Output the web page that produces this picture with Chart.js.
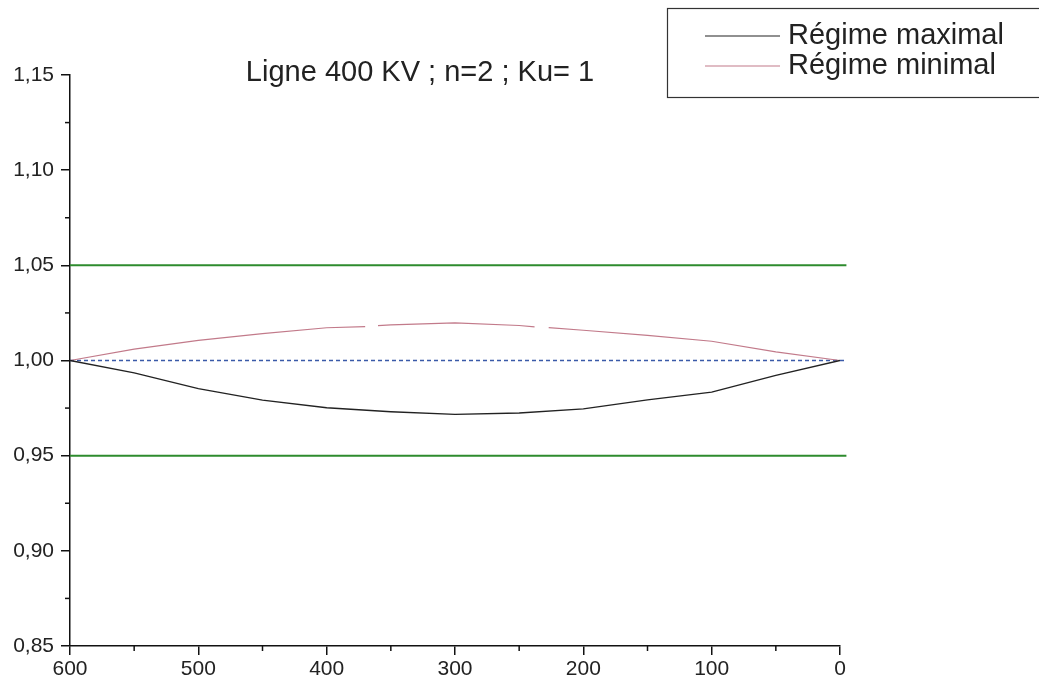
<!DOCTYPE html>
<html>
<head>
<meta charset="utf-8">
<script src="https://cdn.jsdelivr.net/npm/chart.js@4"></script>
<style>
html,body{margin:0;padding:0;background:#fff;}
#wrap{position:relative;width:1039px;height:689px;}
</style>
</head>
<body>
<div id="wrap"><canvas id="c" width="1039" height="689"></canvas></div>
<script>
// ---- data ----
const titleText = 'Ligne 400 KV ; n=2 ; Ku= 1';
const seriesLabels = ['Régime maximal', 'Régime minimal'];
const xTicks = [600, 500, 400, 300, 200, 100, 0];
const yTicks = [0.85, 0.90, 0.95, 1.00, 1.05, 1.10, 1.15];

const maxX = [600, 550, 500, 450, 400, 350, 300, 250, 200, 150, 100, 50, 0];
const maxY = [1.000, 0.9935, 0.9852, 0.9792, 0.9752, 0.9731, 0.9717, 0.9724, 0.9746, 0.9793, 0.9834, 0.9922, 1.000];

const minX = [600, 550, 500, 450, 400, 370, 365, 360, 350, 300, 250, 238, 232, 227, 200, 150, 100, 50, 0];
const minY = [1.000, 1.0060, 1.0106, 1.0141, 1.0172, 1.0178, null, 1.0183, 1.0187, 1.0198, 1.0184, 1.0177, null, 1.0173, 1.0159, 1.0132, 1.0101, 1.0045, 1.000];

const limitX = [600, -5];
const upperY = [1.05, 1.05];
const lowerY = [0.95, 0.95];
const refY = [1.00, 1.00];

const FONT = "'Liberation Sans', Arial, Helvetica, sans-serif";
const pts = (xs, ys) => xs.map((x, i) => ({x: x, y: ys[i]}));

const decorPlugin = {
  id: 'decor',
  afterDraw(chart) {
    const ctx = chart.ctx;
    const xs = chart.scales.x, ys = chart.scales.y;
    ctx.save();
    // minor ticks
    ctx.strokeStyle = '#111';
    ctx.lineWidth = 1.5;
    const yAxisX = chart.chartArea.left;
    for (let v = 0.875; v < 1.15; v += 0.05) {
      const py = ys.getPixelForValue(v);
      ctx.beginPath(); ctx.moveTo(yAxisX - 5, py); ctx.lineTo(yAxisX, py); ctx.stroke();
    }
    const xAxisY = chart.chartArea.bottom;
    for (let v = 50; v < 600; v += 100) {
      const px = xs.getPixelForValue(v);
      ctx.beginPath(); ctx.moveTo(px, xAxisY); ctx.lineTo(px, xAxisY + 5); ctx.stroke();
    }
    // title
    ctx.fillStyle = '#222';
    ctx.font = '29px ' + FONT;
    ctx.textAlign = 'center';
    ctx.textBaseline = 'middle';
    ctx.fillText(titleText, 420, 73);
    // legend box
    ctx.strokeStyle = '#333';
    ctx.lineWidth = 1.2;
    ctx.strokeRect(667.5, 8.5, 400, 89);
    const items = [
      {label: chart.data.datasets[0].label, color: chart.data.datasets[0].borderColor, y: 36},
      {label: chart.data.datasets[1].label, color: chart.data.datasets[1].borderColor, y: 66}
    ];
    ctx.textAlign = 'left';
    items.forEach(it => {
      ctx.strokeStyle = it.color;
      ctx.lineWidth = 1.2;
      ctx.beginPath(); ctx.moveTo(705, it.y); ctx.lineTo(780, it.y); ctx.stroke();
      ctx.fillStyle = '#222';
      ctx.fillText(it.label, 788, it.y);
    });
    ctx.restore();
  }
};

new Chart(document.getElementById('c'), {
  type: 'line',
  data: {
    datasets: [
      {label: seriesLabels[0], data: pts(maxX, maxY), borderColor: '#222222', borderWidth: 1.4, pointRadius: 0, tension: 0, spanGaps: false},
      {label: seriesLabels[1], data: pts(minX, minY), borderColor: '#c27a8a', borderWidth: 1.2, pointRadius: 0, tension: 0, spanGaps: false},
      {label: 'upper', data: pts(limitX, upperY), borderColor: '#2e8b2e', borderWidth: 2, pointRadius: 0, clip: false},
      {label: 'lower', data: pts(limitX, lowerY), borderColor: '#2e8b2e', borderWidth: 2, pointRadius: 0, clip: false},
      {label: 'ref', data: pts(limitX, refY), borderColor: '#3a5aa8', borderWidth: 1.5, borderDash: [4, 3], pointRadius: 0, clip: false}
    ]
  },
  options: {
    responsive: false,
    animation: false,
    layout: {padding: {top: 75, right: 199, bottom: 0, left: 0}},
    plugins: {legend: {display: false}, title: {display: false}, tooltip: {enabled: false}},
    scales: {
      x: {
        type: 'linear', min: 0, max: 600, reverse: true,
        afterBuildTicks: s => { s.ticks = xTicks.map(v => ({value: v})); },
        afterFit: s => { s.height = 43; },
        ticks: {color: '#222', font: {family: FONT, size: 21}, padding: 2, maxRotation: 0, callback: v => String(v)},
        grid: {drawOnChartArea: false, drawTicks: true, tickLength: 9, color: '#111', lineWidth: 1.5},
        border: {display: true, color: '#111', width: 1.5}
      },
      y: {
        type: 'linear', min: 0.85, max: 1.15,
        afterBuildTicks: s => { s.ticks = yTicks.map(v => ({value: v})); },
        afterFit: s => { s.width = 70; },
        ticks: {color: '#222', font: {family: FONT, size: 21}, padding: 7, callback: v => v.toFixed(2).replace('.', ',')},
        grid: {drawOnChartArea: false, drawTicks: true, tickLength: 9, color: '#111', lineWidth: 1.5},
        border: {display: true, color: '#111', width: 1.5}
      }
    }
  },
  plugins: [decorPlugin]
});
</script>
</body>
</html>
